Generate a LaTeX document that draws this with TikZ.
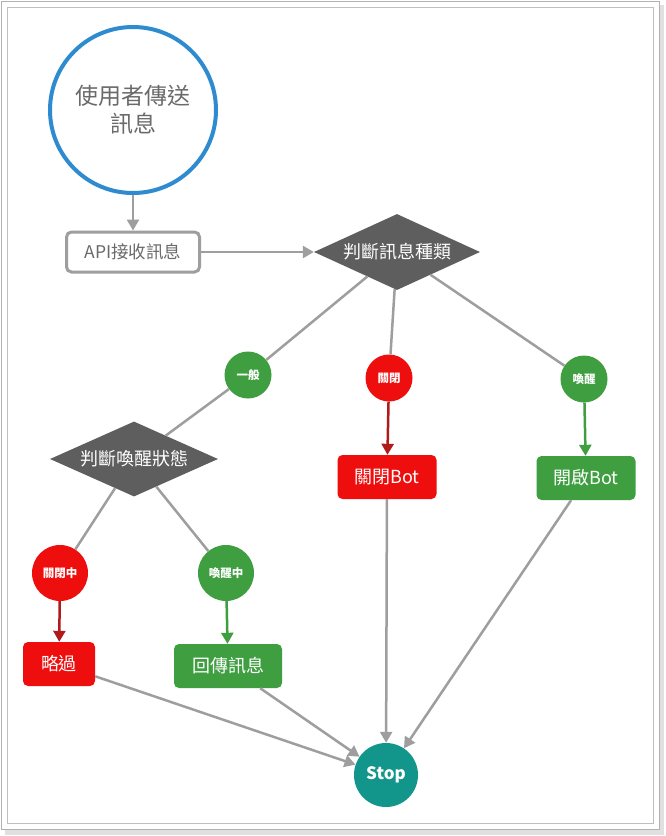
\documentclass[tikz,border=0pt]{standalone}
\usepackage{fontspec}
\setmainfont{Noto Sans CJK TC}
\usepackage{tikz}
\usetikzlibrary{shapes.geometric}
\usetikzlibrary{arrows.meta}

\definecolor{linegray}{HTML}{9E9E9E}
\definecolor{textgray}{HTML}{6A6A6A}
\definecolor{startblue}{HTML}{2F8BCF}
\definecolor{askgray}{HTML}{5E5E5E}
\definecolor{okgreen}{HTML}{3E9E40}
\definecolor{offred}{HTML}{EE0E0E}
\definecolor{darkred}{HTML}{B01A1A}
\definecolor{stopteal}{HTML}{12958A}

\begin{document}
\begin{tikzpicture}[x=1pt,y=-1pt,
  line/.style={draw=linegray,line width=2.5pt},
  arr/.style={line,-{Triangle[length=11pt,width=12pt]}},
  ask/.style={diamond,aspect=2.2,fill=askgray,text=white,inner sep=0pt,minimum width=166pt,minimum height=76pt,font=\fontsize{18}{20}\selectfont},
  tag/.style={circle,inner sep=0pt,text=white,font=\bfseries\fontsize{11.5}{12}\selectfont},
  act/.style={rectangle,rounded corners=5pt,text=white,inner sep=0pt,minimum height=44pt,font=\fontsize{18}{20}\selectfont}]
\useasboundingbox (0,0) rectangle (665,836);

% frame
\fill [black!12] (5,5) rectangle (664,835);
\draw [black!30,fill=white] (1,1) rectangle (659,829);
\draw [black!25] (7,7) rectangle (653,823);

\node (A) [circle,draw=startblue,line width=4pt,minimum size=166pt,align=center,text=textgray,font=\fontsize{23}{28}\selectfont] at (133,110) {使用者傳送\\訊息};

\node (B) [rectangle,rounded corners=5pt,draw=linegray,line width=3pt,minimum width=133pt,minimum height=40pt,text=textgray,font=\fontsize{17.5}{19}\selectfont] at (133,252) {API接收訊息};

\node (C) [ask] at (397,252) {判斷訊息種類};

\node (D) [tag,fill=okgreen,minimum size=47pt] at (248,375) {一般};
\node (E) [tag,fill=offred,minimum size=47pt] at (389,378) {關閉};
\node (F) [tag,fill=okgreen,minimum size=47pt] at (584,379) {喚醒};

\node (G) [act,fill=offred,minimum width=99pt] at (387,477) {關閉Bot};
\node (H) [act,fill=okgreen,minimum width=99pt] at (586,478) {開啟Bot};

\node (I) [ask,minimum width=168pt,minimum height=75pt] at (134,459) {判斷喚醒狀態};

\node (J) [tag,fill=offred,minimum size=56pt] at (60,573) {關閉中};
\node (K) [tag,fill=okgreen,minimum size=56pt] at (226,573) {喚醒中};

\node (L) [act,fill=offred,minimum width=72pt] at (59,664) {略過};
\node (M) [act,fill=okgreen,minimum width=108pt] at (228,666) {回傳訊息};

\node (N) [circle,fill=stopteal,text=white,minimum size=64pt,inner sep=0pt,font=\bfseries\fontsize{17}{19}\selectfont] at (386,775) {Stop};

%
\draw [arr] (A) -- (B);
\draw [arr] (B) -- (C);
\draw [line] (C) -- (D);
\draw [line] (C) -- (E);
\draw [line] (C) -- (F);
\draw [arr,draw=darkred] (E) -- (G);
\draw [arr,draw=okgreen] (F) -- (H);
\draw [line] (D) -- (I);
\draw [line] (I) -- (J);
\draw [line] (I) -- (K);
\draw [arr,draw=darkred] (J) -- (L);
\draw [arr,draw=okgreen] (K) -- (M);
\draw [arr] (L) -- (N);
\draw [arr] (M) -- (N);
\draw [arr] (G) -- (N);
\draw [arr] (H) -- (N);
\end{tikzpicture}
\end{document}
